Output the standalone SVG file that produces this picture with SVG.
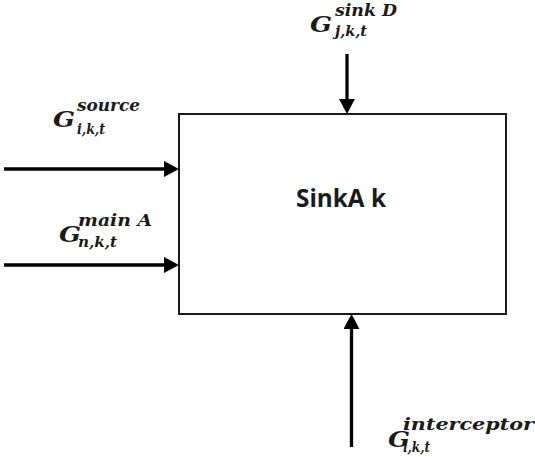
<svg xmlns="http://www.w3.org/2000/svg" width="535" height="457" viewBox="0 0 535 457">
  <style>
    .box { fill: #ffffff; stroke: #1a1a1a; stroke-width: 2; }
    .flow { stroke: #000000; stroke-width: 3.3; fill: none; }
    .title { font-family: "Open Sans", "Liberation Sans", sans-serif; font-weight: bold; font-size: 25px; fill: #1a1a1a; }
    .var { font-family: "DejaVu Serif", "Liberation Serif", serif; font-weight: bold; font-style: italic; fill: #1a1a1a; }
    .g { font-size: 23px; }
    .s { font-size: 17px; }
    .sub { font-size: 15px; }
  </style>
  <defs>
    <marker id="head" markerUnits="userSpaceOnUse" markerWidth="15" markerHeight="16" refX="6" refY="8" orient="auto">
      <path d="M0,0 L15,8 L0,16 z" fill="#000000"/>
    </marker>
  </defs>

  <rect width="535" height="457" fill="#ffffff"/>

  <!-- central sink node -->
  <g id="sinkA">
    <rect class="box" x="179" y="114" width="327" height="200"/>
    <text class="title" x="296" y="207" textLength="90" lengthAdjust="spacingAndGlyphs">SinkA k</text>
  </g>

  <!-- incoming flows -->
  <g id="connectors">
    <line class="flow" x1="4" y1="169" x2="170" y2="169" marker-end="url(#head)"/>
    <line class="flow" x1="4" y1="265" x2="170" y2="265" marker-end="url(#head)"/>
    <line class="flow" x1="347" y1="54" x2="347" y2="105" marker-end="url(#head)"/>
    <line class="flow" x1="351.5" y1="447" x2="351.5" y2="323" marker-end="url(#head)"/>
  </g>

  <!-- flow labels: symbol, superscript, subscript -->
  <g id="label-source">
    <text class="var g" x="53" y="127" textLength="22" lengthAdjust="spacingAndGlyphs">G</text>
    <text class="var s" x="77" y="111" textLength="63" lengthAdjust="spacingAndGlyphs">source</text>
    <text class="var sub" x="77" y="134" textLength="28" lengthAdjust="spacingAndGlyphs">i,k,t</text>
  </g>
  <g id="label-mainA">
    <text class="var g" x="59" y="242" textLength="22" lengthAdjust="spacingAndGlyphs">G</text>
    <text class="var s" x="78" y="226" textLength="74" lengthAdjust="spacingAndGlyphs">main A</text>
    <text class="var sub" x="78" y="247" textLength="39" lengthAdjust="spacingAndGlyphs">n,k,t</text>
  </g>
  <g id="label-sinkD">
    <text class="var g" x="310" y="32" textLength="22" lengthAdjust="spacingAndGlyphs">G</text>
    <text class="var s" x="335" y="16" textLength="62" lengthAdjust="spacingAndGlyphs">sink D</text>
    <text class="var sub" x="335" y="36" textLength="32" lengthAdjust="spacingAndGlyphs">j,k,t</text>
  </g>
  <g id="label-interceptor">
    <text class="var g" x="388" y="447" textLength="22" lengthAdjust="spacingAndGlyphs">G</text>
    <text class="var s" x="403" y="430" textLength="131" lengthAdjust="spacingAndGlyphs">interceptor</text>
    <text class="var sub" x="403" y="452" textLength="27" lengthAdjust="spacingAndGlyphs">l,k,t</text>
  </g>
</svg>
